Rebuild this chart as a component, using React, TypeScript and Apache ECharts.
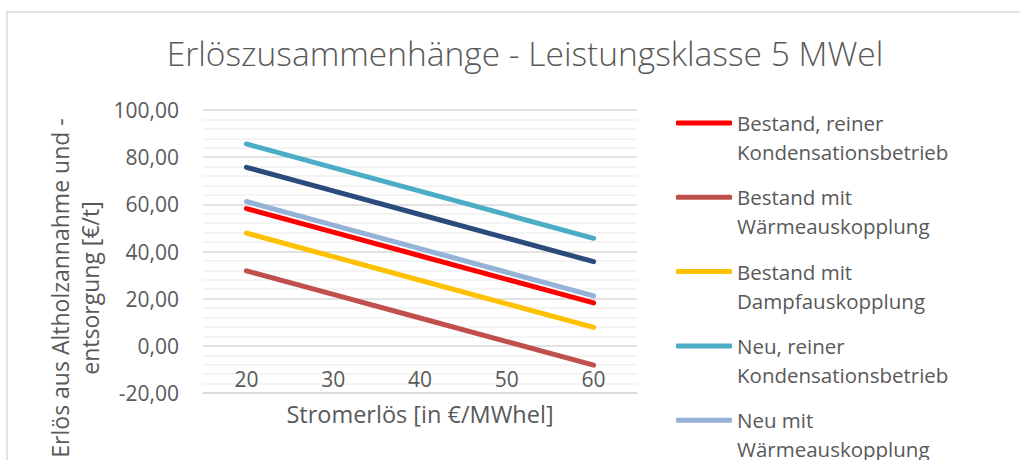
import React, { useEffect, useRef } from "react";
import * as echarts from "echarts";

const categories = ["20", "30", "40", "50", "60"];
const seriesNames = [
  "Bestand, reiner Kondensationsbetrieb",
  "Bestand mit Wärmeauskopplung",
  "Bestand mit Dampfauskopplung",
  "Neu, reiner Kondensationsbetrieb",
  "Neu mit Wärmeauskopplung",
  "Neu mit Dampfauskopplung",
];
const seriesColors = ["#FF0000", "#C0504D", "#FFC000", "#4BACC6", "#95B3D7", "#2A4B7C"];
const bestandReiner = [58.2, 48.2, 38.2, 28.2, 18.2];
const bestandWaerme = [31.8, 21.8, 11.8, 1.8, -8.2];
const bestandDampf = [47.8, 37.8, 27.8, 17.8, 7.8];
const neuReiner = [85.6, 75.6, 65.6, 55.6, 45.6];
const neuWaerme = [61.2, 51.2, 41.2, 31.2, 21.2];
const neuDampf = [75.7, 65.7, 55.7, 45.7, 35.7];
const seriesValues = [bestandReiner, bestandWaerme, bestandDampf, neuReiner, neuWaerme, neuDampf];

const title = "Erlöszusammenhänge - Leistungsklasse 5 MWel";
const xTitle = "Stromerlös [in €/MWhel]";
const yTitle = "Erlös aus Altholzannahme und -\nentsorgung [€/t]";

const FONT = "'Open Sans', 'Noto Sans', sans-serif";
const TXT = "#595959";

export default function App() {
  const ref = useRef<HTMLDivElement>(null);
  useEffect(() => {
    if (!ref.current) return;
    const chart = echarts.init(ref.current, undefined, { renderer: "svg" });
    chart.setOption({
      animation: false,
      backgroundColor: "#FFFFFF",
      textStyle: { fontFamily: FONT },
      title: {
        text: title,
        left: 520,
        top: 31,
        textAlign: "center",
        textStyle: { fontFamily: FONT, fontSize: 33.5, fontWeight: 300, color: TXT },
      },
      graphic: [
        {
          type: "rect",
          shape: { x: 7, y: 12, width: 1200, height: 700 },
          style: { fill: "none", stroke: "#D9D9D9", lineWidth: 1.5 },
          silent: true,
        },
        {
          type: "text",
          x: 75,
          y: 288,
          rotation: Math.PI / 2,
          style: {
            text: yTitle,
            align: "center",
            verticalAlign: "middle",
            fontFamily: FONT,
            fontSize: 23,
            lineHeight: 30,
            fill: TXT,
          },
        },
      ],
      legend: {
        orient: "vertical",
        left: 676,
        top: 79.5,
        height: 900,
        padding: 0,
        itemGap: -12.7,
        itemWidth: 56,
        itemHeight: 5,
        icon: "roundRect",
        data: seriesNames,
        formatter: (n: string) => {
          const i = n.lastIndexOf(" ");
          return "\n" + n.slice(0, i) + "\n" + n.slice(i + 1);
        },
        textStyle: {
          fontFamily: FONT,
          fontSize: 20.5,
          lineHeight: 29,
          color: TXT,
        },
      },
      grid: {
        left: 203,
        right: 383,
        top: 110,
        bottom: 67,
        containLabel: false,
        outerBoundsMode: "none",
      },
      xAxis: {
        type: "category",
        data: categories,
        boundaryGap: true,
        name: xTitle,
        nameLocation: "middle",
        nameGap: 9,
        nameMoveOverlap: false,
        nameTextStyle: { fontFamily: FONT, fontSize: 23.5, color: TXT },
        axisLine: { show: true, onZero: false, lineStyle: { color: "#D9D9D9", width: 1.5 } },
        axisTick: { show: false },
        axisLabel: { fontFamily: FONT, fontSize: 21, color: TXT, inside: true, margin: 4 },
      },
      yAxis: {
        type: "value",
        min: -20,
        max: 100,
        interval: 20,
        axisLine: { show: false },
        axisTick: { show: false },
        axisLabel: {
          fontFamily: FONT,
          fontSize: 21,
          color: TXT,
          margin: 24,
          formatter: (v: number) => v.toFixed(2).replace(".", ","),
        },
        splitLine: { show: true, lineStyle: { color: "#D9D9D9", width: 1.5 } },
        minorTick: { show: false, splitNumber: 5 },
        minorSplitLine: { show: true, lineStyle: { color: "#F0F0F0", width: 1.5 } },
      },
      series: seriesNames.map((name, i) => ({
        name,
        type: "line",
        data: seriesValues[i],
        showSymbol: false,
        symbol: "none",
        color: seriesColors[i],
        lineStyle: { width: 5, color: seriesColors[i], cap: "round" },
      })),
    });
    return () => chart.dispose();
  }, []);
  return (
    <div
      ref={ref}
      style={{ position: "fixed", left: 0, top: 0, width: 1020, height: 460 }}
    />
  );
}
